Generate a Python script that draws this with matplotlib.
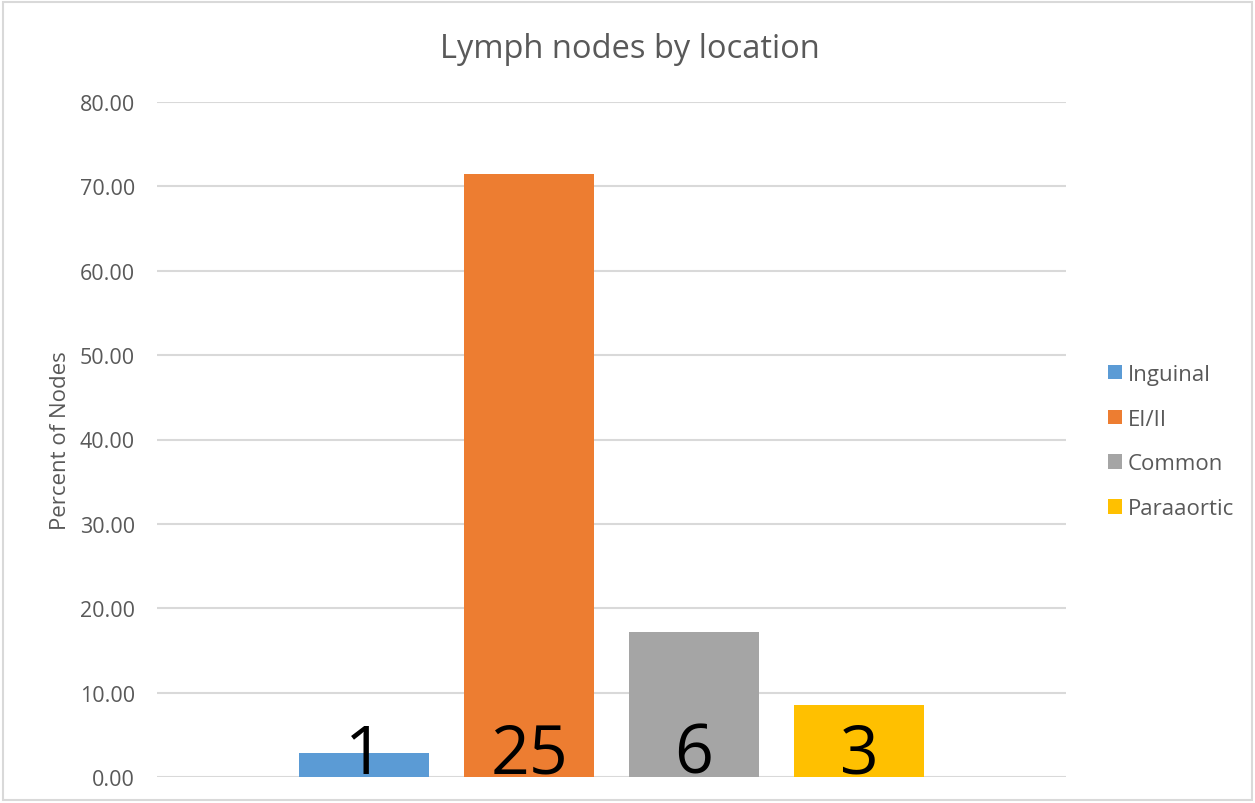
import matplotlib
matplotlib.use("Agg")
import matplotlib.pyplot as plt
from matplotlib.patches import Rectangle, Patch

locations = ["Inguinal", "EI/II", "Common", "Paraaortic"]
node_counts = [1, 25, 6, 3]
percent_nodes = [2.86, 71.43, 17.14, 8.57]
colors = ["#5B9BD5", "#ED7D31", "#A5A5A5", "#FFC000"]
y_ticks = [0, 10, 20, 30, 40, 50, 60, 70, 80]

plt.rcParams["font.family"] = ["Open Sans", "DejaVu Sans"]
text_gray = "#595959"

W, H = 1255, 804
fig = plt.figure(figsize=(W / 100, H / 100), dpi=100)
fig.patch.set_facecolor("white")

# plot area in pixel terms
left, right, top, bottom = 157, 1066, 103, 778
ax = fig.add_axes([left / W, 1 - bottom / H, (right - left) / W, (bottom - top) / H])

positions = [0, 1, 2, 3]
bar_width = 130 / 165
ax.bar(positions, percent_nodes, width=bar_width, color=colors, zorder=3)

for x, n in zip(positions, node_counts):
    ax.text(x, 0.5, str(n), ha="center", va="baseline", fontsize=49,
            color="black", zorder=4)

ax.set_ylim(0, 80)
ax.set_xlim((left - 364) / 165, (right - 364) / 165)
ax.set_yticks(y_ticks)
ax.set_yticklabels([f"{v:.2f}" for v in y_ticks], fontsize=15.5, color=text_gray)
ax.set_xticks([])
ax.tick_params(axis="y", length=0, pad=16)
ax.grid(axis="y", color="#D9D9D9", linewidth=1.5, zorder=0)
for s in ax.spines.values():
    s.set_visible(False)

ax.set_ylabel("Percent of Nodes", fontsize=16, color=text_gray, labelpad=6)

fig.text(630 / W, 1 - 50 / H, "Lymph nodes by location", ha="center", va="center",
         fontsize=23.5, color=text_gray)

handles = [Patch(facecolor=c, edgecolor="none") for c in colors]
fig.legend(handles, locations, loc="center left",
           bbox_to_anchor=(1108 / W, 1 - 442.5 / H), frameon=False, borderpad=0,
           borderaxespad=0, fontsize=16, labelcolor=text_gray,
           handlelength=0.63, handleheight=0.63, handletextpad=0.27,
           labelspacing=1.07)

fig.patches.append(Rectangle((3 / W, 3 / H), (W - 6) / W, (H - 6) / H,
                             transform=fig.transFigure, fill=False,
                             edgecolor="#D9D9D9", linewidth=1.5))

fig.savefig("out.png", dpi=100, facecolor="white")
